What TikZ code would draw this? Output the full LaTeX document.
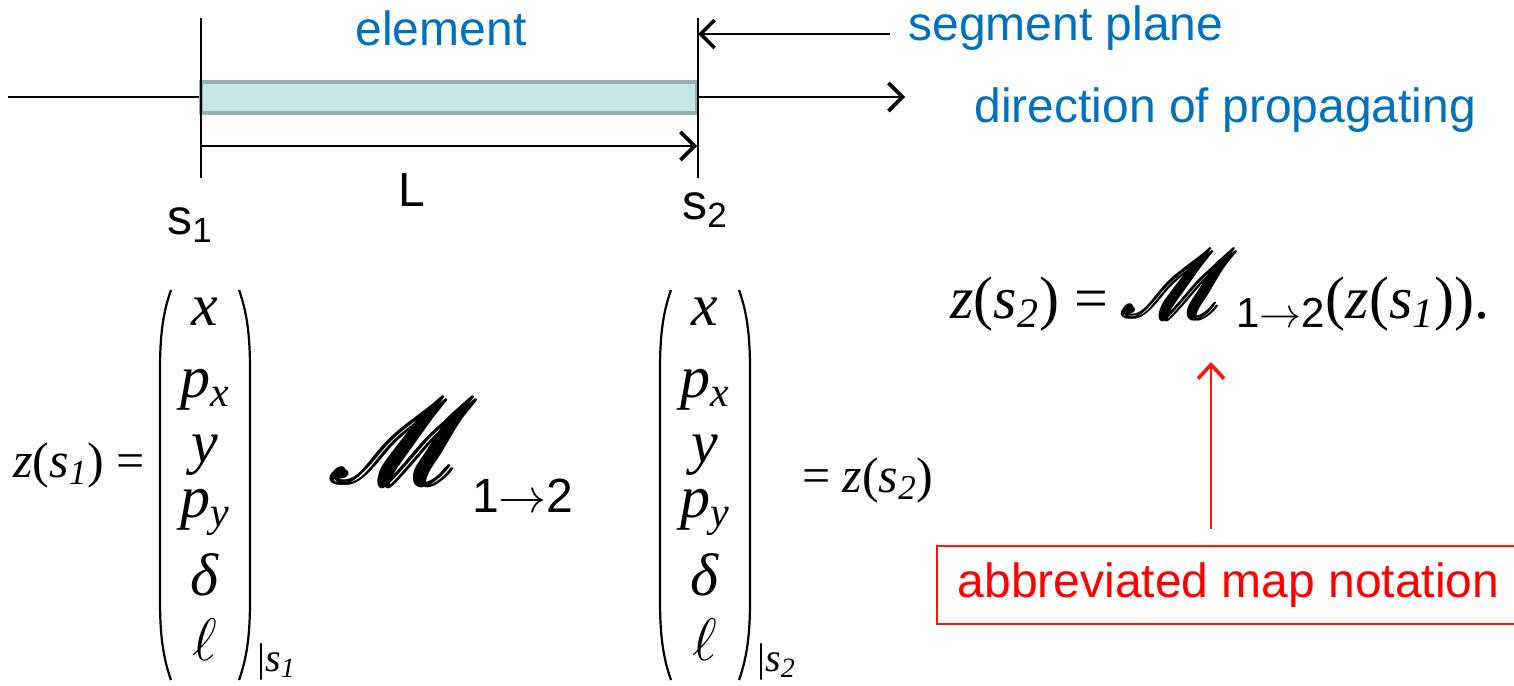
\RequirePackage{fix-cm}
\documentclass[tikz,border=0pt]{standalone}
\usepackage{fontspec}
\setmainfont{Liberation Serif}
\setsansfont{Liberation Sans}
\usepackage{amsmath}
\usepackage{mathrsfs}
\usepackage{graphicx}
\usetikzlibrary{arrows.meta}
\definecolor{textblue}{RGB}{0,112,192}
\definecolor{elemfill}{RGB}{196,230,231}
\definecolor{elemdraw}{RGB}{152,176,178}
\definecolor{notered}{RGB}{255,20,0}
\newcommand{\mapM}{\pmb{\mathscr{M}}}
\newcommand{\iv}[1]{\textit{#1}}
\begin{document}
\begin{tikzpicture}[x=0.5pt,y=-0.5pt,
  plane/.style={line width=0.6pt},
  axis/.style={line width=1pt},
  arr/.style={line width=1pt,-{Straight Barb[length=7pt,width=14pt,line width=1.8pt]}},
  bluetxt/.style={text=textblue,font=\sffamily\fontsize{24}{26}\selectfont,inner sep=0pt},
  elem/.style={draw=elemdraw,line width=2pt,fill=elemfill,minimum width=248pt,minimum height=15.5pt,inner sep=0pt},
  entry/.style={font=\fontsize{30}{32}\selectfont,inner sep=0pt},
  paren/.style={line width=1.1pt},
  notebox/.style={draw=notered,line width=0.8pt,text=red,font=\sffamily\fontsize{24}{26}\selectfont,minimum width=291.5pt,minimum height=39pt},
  redarr/.style={draw=notered,line width=1pt,-{Straight Barb[length=7pt,width=13pt,line width=1.8pt]}}]
  \useasboundingbox (0,0) rectangle (1514,685);

  \node[elem] (elem) at (449,97) {};
  \coordinate (west) at (8,97);
  \coordinate (prop) at (905,97);
  \draw[axis] (west) -- (elem.west);
  \draw[arr] (elem.east) -- (prop);

  \coordinate (s1top) at (201,18);
  \coordinate (s1bot) at (201,178);
  \coordinate (s2top) at (698,18);
  \coordinate (s2bot) at (698,178);
  \draw[plane] (s1top) -- (s1bot);
  \draw[plane] (s2top) -- (s2bot);

  \coordinate (la) at (201,146);
  \coordinate (lb) at (697,146);
  \draw[arr] (la) -- (lb);
  \coordinate (sp) at (890,34);
  \coordinate (spend) at (698,34);
  \draw[arr] (sp) -- (spend);

  \node[bluetxt] (elemlabel) at (441,28) {element};
  \node[bluetxt,anchor=west] (seglabel) at (908,28) {segment plane};
  \node[bluetxt,anchor=west] (proplabel) at (974,110) {direction of propagating};
  \node[font=\sffamily\fontsize{24}{26}\selectfont] (Llabel) at (412,190) {L};
  \node[font=\sffamily\fontsize{25}{27}\selectfont] (s1) at (190,225) {s$_{\textsf{1}}$};
  \node[font=\sffamily\fontsize{25}{27}\selectfont] (s2) at (705,210) {s$_{\textsf{2}}$};

  \node[anchor=east,font=\fontsize{25}{27}\selectfont] (z1) at (152,465) {\iv{z}(\iv{s}$_{\iv{1}}$) =};
  \foreach \cx/\k in {205/1,705/2}{
    \node[entry] (x\k) at (\cx,312) {\iv{x}};
    \node[entry] (px\k) at (\cx,390) {\iv{p}$_{\iv{x}}$};
    \node[entry] (y\k) at (\cx,455) {\iv{y}};
    \node[entry] (py\k) at (\cx,512) {\iv{p}$_{\iv{y}}$};
    \node[entry] (d\k) at (\cx,575) {\iv{δ}};
    \node[entry] (l\k) at (\cx,640) {$\ell$};
    \draw[paren] (\cx-34,290) .. controls (\cx-43,315) and (\cx-45,340) .. (\cx-45,370) -- (\cx-45,600)
      .. controls (\cx-45,630) and (\cx-43,655) .. (\cx-34,680);
    \draw[paren] (\cx+34,290) .. controls (\cx+43,315) and (\cx+45,340) .. (\cx+45,370) -- (\cx+45,600)
      .. controls (\cx+45,630) and (\cx+43,655) .. (\cx+34,680);
    \node[anchor=west,font=\fontsize{20}{22}\selectfont,inner sep=0pt] (at\k) at (\cx+52,662) {|\iv{s}$_{\iv{\k}}$};
  }

  \node[anchor=west,font=\fontsize{24}{26}\selectfont] (bigmap) at (325,455)
    {\scalebox{2.4}{$\mapM$}\hspace{-4pt}\raisebox{-14pt}{\sffamily 1$\rightarrow$2}};
  \node[anchor=west,font=\fontsize{25}{27}\selectfont] (z2) at (795,480) {= \iv{z}(\iv{s}$_{\iv{2}}$)};

  \node[anchor=base west,font=\fontsize{30}{32}\selectfont,inner sep=0pt] (mapeq) at (950,318)
    {\iv{z}(\iv{s}$_{\iv{2}}$) = {\fontsize{24}{26}\selectfont\scalebox{1.9}{$\mapM$}}\hspace{-2pt}$_{\textsf{1}\rightarrow\textsf{2}}$(\iv{z}(\iv{s}$_{\iv{1}}$)).};

  \node[notebox] (note) at (1228.5,585) {abbreviated map notation};
  \coordinate (tip) at (1211,362);
  \draw[redarr] ([yshift=8pt]note.north -| tip) -- (tip);
\end{tikzpicture}
\end{document}
